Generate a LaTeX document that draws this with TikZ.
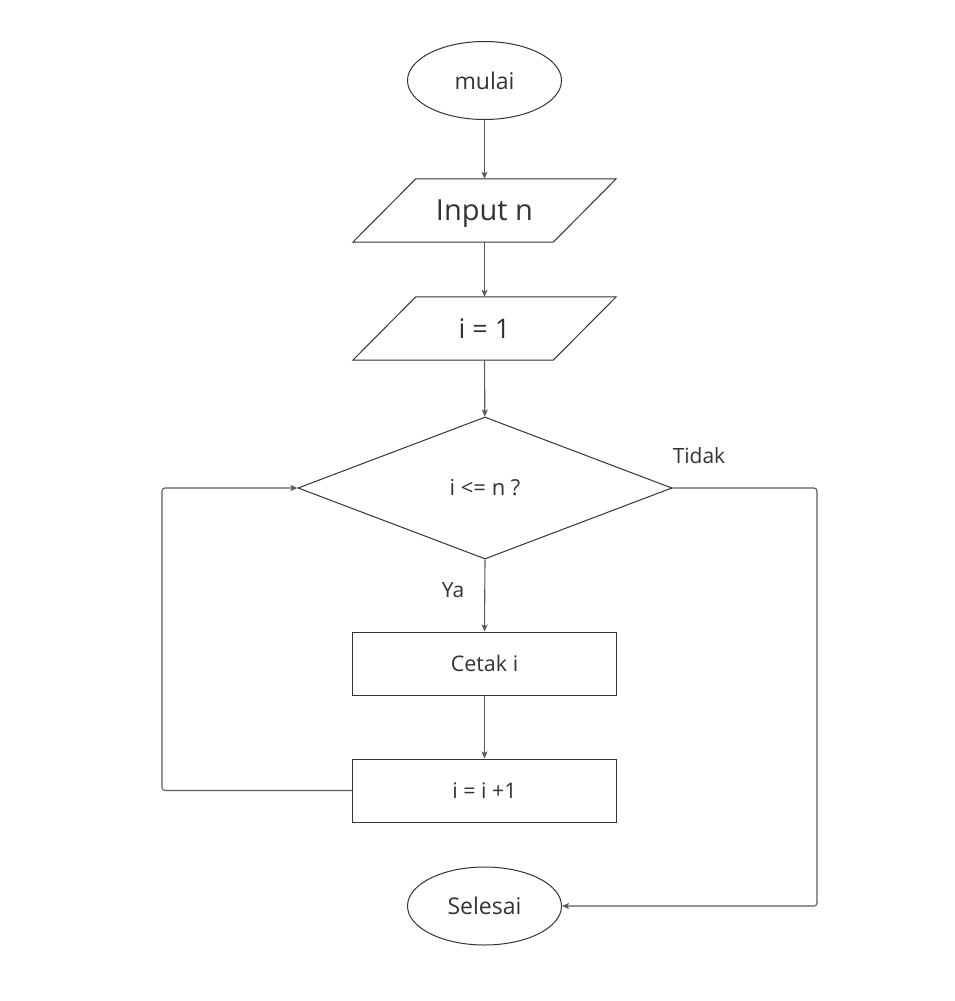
\documentclass[tikz,border=0pt]{standalone}
\usepackage{fontspec}
\setmainfont{Open Sans}
\usetikzlibrary{shapes.geometric,arrows.meta}
\definecolor{shapeline}{HTML}{333333}
\definecolor{connline}{HTML}{5A5A5A}
\definecolor{txt}{HTML}{333333}
\begin{document}
\begin{tikzpicture}[x=1pt,y=-1pt,
 base/.style={draw=shapeline, line width=1pt, text=txt, inner sep=0pt},
 terminal/.style={base, ellipse, minimum width=154pt, minimum height=78pt, font=\fontsize{23}{28}\selectfont},
 io/.style={text=txt, inner sep=0pt, rectangle, minimum width=263pt, minimum height=63pt},
 iopath/.style={draw=shapeline, line width=1pt, line join=miter},
 decision/.style={base, diamond, minimum width=374pt, minimum height=142pt, font=\fontsize{22}{26}\selectfont},
 process/.style={base, rectangle, minimum width=264pt, minimum height=63pt, font=\fontsize{21.5}{26}\selectfont},
 conn/.style={draw=connline, line width=1.1pt, -{Stealth[length=7pt,width=6pt,inset=1.5pt]}, rounded corners=3pt},
 lbl/.style={text=txt, font=\fontsize{21}{25}\selectfont, inner sep=0pt}]
\useasboundingbox (0,0) rectangle (954,1001);
\node[terminal] (start) at (484.5,80.5) {mulai};
\node[io, text depth=0pt, font=\fontsize{29}{34}\selectfont] (input) at (484.5,210.5) {Input n};
\draw[iopath] (input.south west) -- ([xshift=-63pt]input.south east) -- (input.north east) -- ([xshift=63pt]input.north west) -- cycle;
\node[io, text depth=0pt, font=\fontsize{27}{32}\selectfont] (init) at (484.5,328.5) {i = 1};
\draw[iopath] (init.south west) -- ([xshift=-63pt]init.south east) -- (init.north east) -- ([xshift=63pt]init.north west) -- cycle;
\node[decision] (cond) at (485,488) {i <= n ?};
\node[process] (print) at (484.5,663.5) {Cetak i};
\node[process] (inc) at (484.5,790.5) {i = i +1};
\node[terminal] (stop) at (484.5,906) {Selesai};
\node[lbl] (tidak) at (699,456) {Tidak};
\node[lbl] (ya) at (453,590) {Ya};
\coordinate (loopx) at (162,640);
\coordinate (rightx) at (817,700);
\draw[conn] (start) -- (input);
\draw[conn] (input) -- (init);
\draw[conn] (init) -- (cond);
\draw[conn] (cond.south) -- (print.north);
\draw[conn] (print) -- (inc);
\draw[conn] (inc.west) -| (loopx) |- (cond.west);
\draw[conn] (cond.east) -| (rightx) |- (stop.east);
\end{tikzpicture}
\end{document}
